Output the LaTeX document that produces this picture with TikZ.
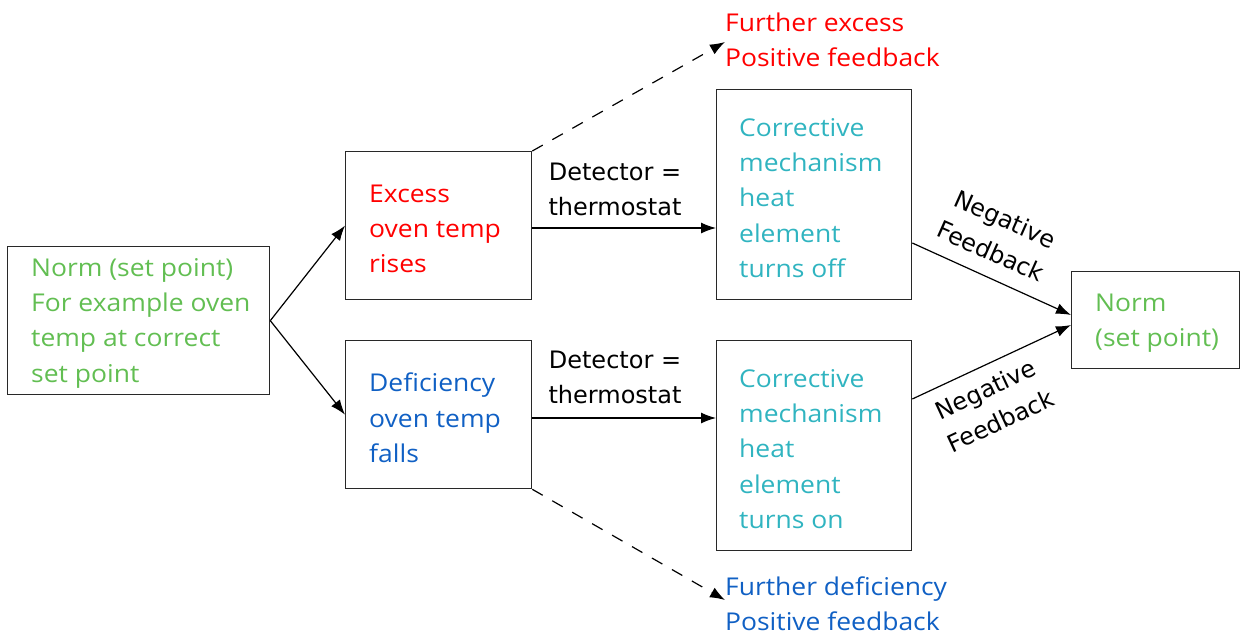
\documentclass[tikz,border=0pt]{standalone}
\usepackage{fontspec}
\setmainfont[FakeStretch=1.08]{Open Sans}
\newfontfamily\labfont{DejaVu Sans}
\usetikzlibrary{arrows.meta}
\definecolor{cgreen}{RGB}{98,190,82}
\definecolor{cred}{RGB}{255,0,0}
\definecolor{cblue}{RGB}{16,96,196}
\definecolor{cteal}{RGB}{48,180,192}
\definecolor{cborder}{RGB}{40,40,40}
\tikzset{
  box/.style={draw=cborder, line width=1.3pt, anchor=north west, inner sep=0pt},
  txt/.style={align=left, anchor=west, inner sep=0pt, font=\fontsize{24.5}{35.3}\selectfont},
  lab/.style={align=center, font=\labfont\fontsize{24}{35}\selectfont, inner sep=0pt},
  conn/.style={line width=1.2pt, -{Latex[length=15pt,width=11pt]}},
  dconn/.style={conn, dash pattern=on 12pt off 11pt},
}
\begin{document}
\begin{tikzpicture}[x=1pt,y=-1pt]
\useasboundingbox (0,0) rectangle (1240,632);
% boxes
\node[box, minimum width=262pt, minimum height=148pt] (norm) at (7,246) {};
\node[box, minimum width=186pt, minimum height=148pt] (excess) at (345,151) {};
\node[box, minimum width=186pt, minimum height=148pt] (defic) at (345,340) {};
\node[box, minimum width=195pt, minimum height=210pt] (corr1) at (716,89) {};
\node[box, minimum width=195pt, minimum height=210pt] (corr2) at (716,340) {};
\node[box, minimum width=168pt, minimum height=97pt] (normr) at (1071,271) {};
% box texts
\node[txt, text=cgreen] (normt) at (31,323) {Norm (set point)\\For example oven\\temp at correct\\set point};
\node[txt, text=cred] (excesst) at (369,229) {Excess\\oven temp\\rises};
\node[txt, text=cblue] (defict) at (369,418) {Deficiency\\oven temp\\falls};
\node[txt, text=cteal] (corr1t) at (739,198) {Corrective\\mechanism\\heat\\element\\turns off};
\node[txt, text=cteal] (corr2t) at (739,449) {Corrective\\mechanism\\heat\\element\\turns on};
\node[txt, text=cgreen] (normrt) at (1095,323) {Norm\\(set point)};
% free texts
\node[txt, text=cred] (fexc) at (725,40) {Further excess\\Positive feedback};
\node[txt, text=cblue] (fdef) at (725,604) {Further deficiency\\Positive feedback};
% labels
\node[lab] (det1) at (615,189) {Detector =\\thermostat};
\node[lab] (det2) at (615,377) {Detector =\\thermostat};
\node[lab, rotate=-24] (neg1) at (998,235) {Negative\\Feedback};
\node[lab, rotate=25] (neg2) at (993,405) {Negative\\Feedback};
% connectors
\coordinate (split) at (norm.east);
\draw[conn] (split) -- (excess.west);
\draw[conn] (split) -- (defic.west);
\draw[conn] (excess.east |- 0,228) -- (corr1.west |- 0,228);
\draw[conn] (defic.east |- 0,418) -- (corr2.west |- 0,418);
\draw[dconn] (excess.north east) -- (fexc.west |- 0,42) ;
\draw[dconn] (defic.south east) -- (fdef.west |- 0,600);
\draw[conn] (corr1.east |- 0,243) -- (normr.west |- 0,315);
\draw[conn] (corr2.east |- 0,399) -- (normr.west |- 0,325);
\end{tikzpicture}
\end{document}
